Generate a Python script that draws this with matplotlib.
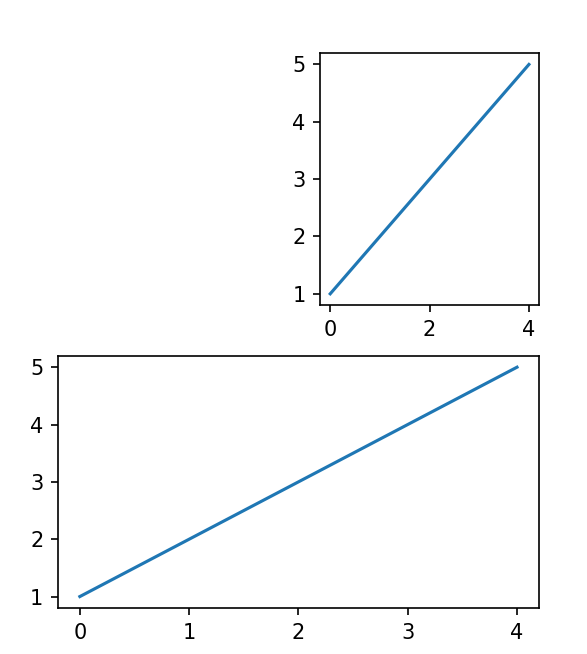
import matplotlib
matplotlib.use("Agg")
import matplotlib.pyplot as plt

# data
x = [0, 1, 2, 3, 4]
y = [1, 2, 3, 4, 5]

DPI = 150
fig = plt.figure(figsize=(587 / DPI, 654 / DPI), dpi=DPI)
gs = fig.add_gridspec(2, 2)
fig.subplots_adjust(left=0.0988, right=0.918, bottom=0.0703, top=0.919,
                    wspace=0.2, hspace=0.2)

ax_top = fig.add_subplot(gs[0, 1])
ax_top.plot(x, y)

ax_bottom = fig.add_subplot(gs[1, :])
ax_bottom.plot(x, y)

fig.savefig("out.png", dpi=DPI)
